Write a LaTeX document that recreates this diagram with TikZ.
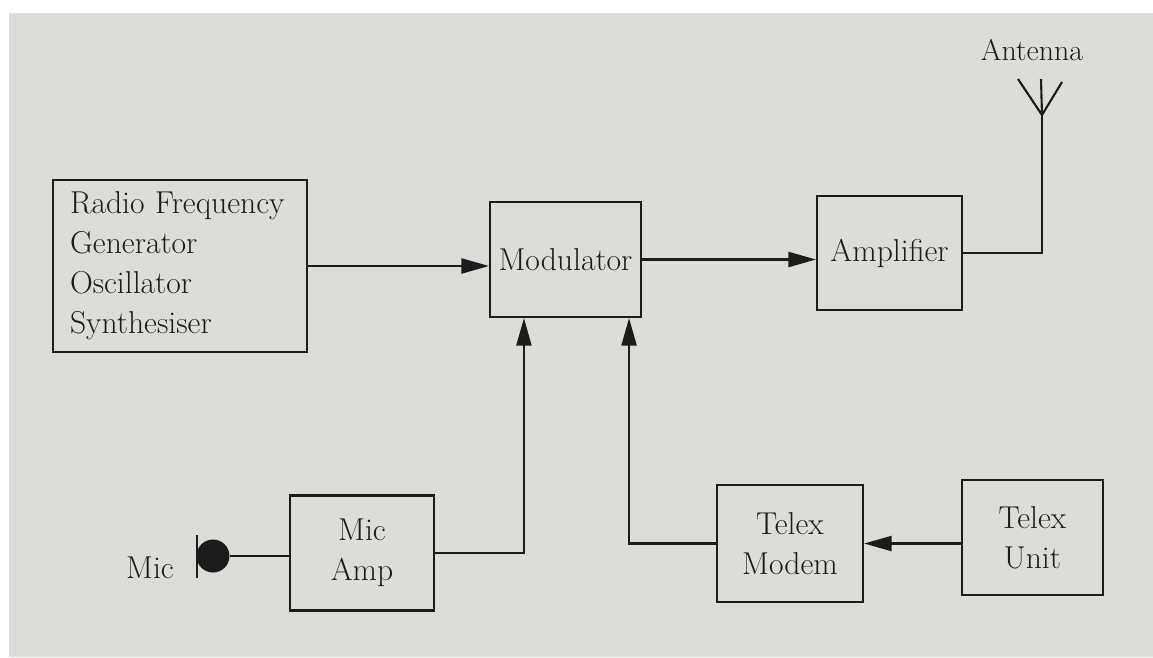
\documentclass[tikz,border=0pt]{standalone}
\usetikzlibrary{arrows.meta}
\definecolor{ink}{RGB}{28,28,28}
\definecolor{paper}{RGB}{220,220,217}
\begin{document}
\begin{tikzpicture}[x=0.02cm,y=-0.02cm,every node/.style={font=\fontsize{18}{22.8}\selectfont,text=ink}]
    \tikzset{
      blk/.style={draw=ink,line width=1.2pt,inner sep=0pt,align=center},
      wire/.style={draw=ink,line width=1.2pt},
      arr/.style={wire,-{Triangle[length=0.55cm,width=0.3cm]}}
    }
    \useasboundingbox (0,0) rectangle (1153,657);
    \fill[paper] (9,13) rectangle (1153,657);
    \node[blk,minimum width=5.08cm,minimum height=3.44cm,text width=4.4cm,align=left] (rf) at (180,266)
      {Radio Frequency\\Generator\\Oscillator\\Synthesiser};
    \node[blk,minimum width=3.02cm,minimum height=2.3cm] (mod) at (565.5,259.5) {Modulator};
    \node[blk,minimum width=2.9cm,minimum height=2.28cm] (amp) at (889.5,253) {Amplifier};
    \node[blk,minimum width=2.88cm,minimum height=2.3cm] (micamp) at (362,553) {Mic\\Amp};
    \node[blk,minimum width=2.92cm,minimum height=2.34cm] (modem) at (790,543.5) {Telex\\Modem};
    \node[blk,minimum width=2.82cm,minimum height=2.3cm] (unit) at (1032.5,537.5) {Telex\\Unit};
    \node[circle,fill=ink,minimum size=0.66cm,inner sep=0pt] (mic) at (213,556) {};
    \node (miclab) at (150,568) {Mic};
    \node[font=\fontsize{17}{20}\selectfont] (antlab) at (1032,50) {Antenna};
    \coordinate (ant) at (1042,115);
    \draw[wire] (197,535) -- (197,578);
    \draw[wire] (mic) -- (mic -| micamp.west);
    \draw[arr] (rf.east) -- (rf.east -| mod.west);
    \draw[arr] (mod.east) -- (mod.east -| amp.west);
    \draw[wire] (amp.east) -| (ant);
    \draw[wire] (ant) -- (1018,79) (ant) -- (1041,79) (ant) -- (1062,82);
    \draw[arr] (micamp.east) -| ([xshift=0.7cm]mod.south west);
    \draw[arr] (modem.west) -| ([xshift=-0.26cm]mod.south east);
    \draw[arr] (unit.west |- modem.east) -- (modem.east);
  \end{tikzpicture}
\end{document}
